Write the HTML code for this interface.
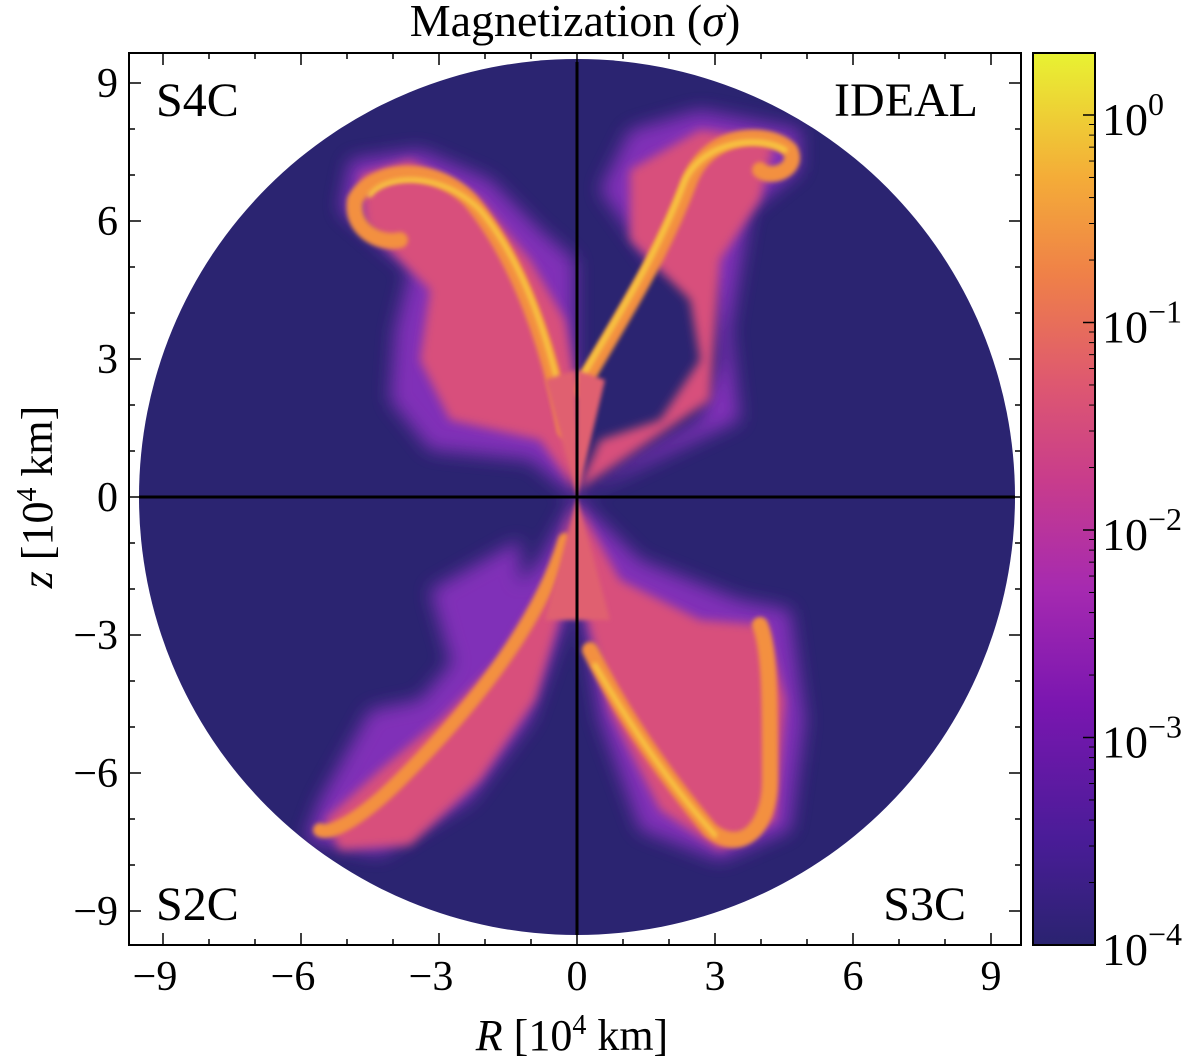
<!DOCTYPE html>
<html><head><meta charset="utf-8"><style>
html,body{margin:0;padding:0;background:#fff;}
svg{display:block;font-family:"Liberation Serif","DejaVu Serif",serif;}
</style></head><body>
<svg width="1200" height="1060" viewBox="0 0 1200 1060">
<defs>
<filter id="b8" x="-30%" y="-30%" width="160%" height="160%"><feGaussianBlur stdDeviation="9"/></filter>
<filter id="b4" x="-30%" y="-30%" width="160%" height="160%"><feGaussianBlur stdDeviation="5"/></filter>
<filter id="b2" x="-30%" y="-30%" width="160%" height="160%"><feGaussianBlur stdDeviation="2"/></filter>
<linearGradient id="cmap" x1="0" y1="1" x2="0" y2="0">
<stop offset="0" stop-color="#2a2370"/>
<stop offset="0.12" stop-color="#4a1c98"/>
<stop offset="0.27" stop-color="#7a16b0"/>
<stop offset="0.4" stop-color="#a62ab0"/>
<stop offset="0.52" stop-color="#c83c8c"/>
<stop offset="0.63" stop-color="#de5870"/>
<stop offset="0.75" stop-color="#ef8048"/>
<stop offset="0.86" stop-color="#f4ac38"/>
<stop offset="1" stop-color="#e8f232"/>
</linearGradient>
<clipPath id="disk"><circle cx="577" cy="497" r="438"/></clipPath>
</defs>

<text x="575" y="36" font-size="46" text-anchor="middle">Magnetization (<tspan font-style="italic">σ</tspan>)</text>

<g>
<circle cx="577" cy="497" r="438" fill="#2b2471"/>
<g clip-path="url(#disk)">
 <g filter="url(#b8)" fill="#8a30c0" opacity="0.9">
  <path d="M575,497 L530,460 L430,450 L390,400 L395,330 L410,270 L340,210 L350,160 L420,150 L490,180 L540,230 L575,260 Z"/>
  <path d="M575,497 L630,460 L700,420 L720,360 L710,280 L650,260 L600,190 L630,130 L700,110 L800,130 L800,170 L750,210 L730,330 L740,420 Z"/>
  <path d="M575,497 L640,560 L740,600 L790,610 L805,720 L790,830 L720,860 L640,830 L600,720 L580,600 Z"/>
  <path d="M575,497 L540,560 L470,640 L420,700 L370,710 L320,800 L305,840 L380,855 L470,800 L530,720 L565,620 Z"/>
  <path d="M520,540 L430,590 L450,660 L520,630 Z"/>
 </g>
 <g filter="url(#b4)" fill="#d8507c">
  <path d="M575,490 L540,440 L450,420 L420,360 L430,290 L365,225 L360,175 L410,160 L480,200 L530,260 L565,320 L575,380 Z"/>
  <path d="M578,490 L600,440 L660,420 L700,360 L690,300 L630,240 L630,170 L700,130 L775,140 L760,200 L720,260 L710,400 Z"/>
  <path d="M578,505 L620,580 L700,620 L765,625 L785,700 L775,820 L720,850 L660,810 L610,710 L585,610 Z"/>
  <path d="M572,505 L550,580 L500,660 L440,720 L380,770 L325,820 L340,850 L410,845 L480,780 L535,700 L565,600 Z"/>
 </g>
 <g filter="url(#b2)" fill="none" stroke="#f39040" stroke-linecap="round">
  <path d="M565,430 C550,350 520,260 470,200 C430,160 370,170 355,200 C350,230 380,245 400,240" stroke-width="16"/>
  <path d="M580,390 C620,320 660,260 690,180 C710,130 770,130 790,150 C800,170 770,180 760,170" stroke-width="16"/>
  <path d="M590,650 C620,710 660,770 710,830 C740,855 770,830 770,780 C770,700 770,650 760,625" stroke-width="16"/>
  <path d="M565,540 C540,620 480,700 400,780 C360,820 330,835 320,830" stroke-width="14"/>
 </g>
 <g filter="url(#b2)" fill="none" stroke="#f8c440" stroke-linecap="round">
  <path d="M570,440 C555,360 530,270 480,210 C440,170 385,175 370,195" stroke-width="5"/>
  <path d="M580,380 C615,320 655,260 685,180 C705,140 760,135 785,150" stroke-width="6"/>
  <path d="M595,665 C630,725 670,785 715,835" stroke-width="5"/>
 </g>
 <path d="M577,497 L545,380 L575,370 Z M577,497 L605,380 L577,370 Z M577,497 L545,620 L610,620 Z" fill="#e06070" filter="url(#b2)"/>
</g>
<line x1="577" y1="62" x2="577" y2="935" stroke="#000" stroke-width="3"/>
<line x1="139" y1="497" x2="1015" y2="497" stroke="#000" stroke-width="3"/>
<rect x="129" y="53" width="892" height="892" fill="none" stroke="#000" stroke-width="2"/>
<g id="ticks"></g>
<text x="156" y="116" font-size="48">S4C</text>
<text x="978" y="116" font-size="48" text-anchor="end">IDEAL</text>
<text x="156" y="920" font-size="48">S2C</text>
<text x="966" y="920" font-size="48" text-anchor="end">S3C</text>
</g>

<text x="572" y="1050" font-size="44" text-anchor="middle"><tspan font-style="italic">R</tspan> [10<tspan font-size="28" dy="-16">4</tspan><tspan dy="16"> km]</tspan></text>
<text transform="translate(52,497) rotate(-90)" font-size="44" text-anchor="middle"><tspan font-style="italic">z</tspan> [10<tspan font-size="28" dy="-16">4</tspan><tspan dy="16"> km]</tspan></text>

<g>
<rect x="1033" y="53" width="62" height="892" fill="url(#cmap)" stroke="#000" stroke-width="2"/>
<g id="cbticks"></g>
</g>

<script>
const xTicks=[-9,-6,-3,0,3,6,9];
const yTicks=[-9,-6,-3,0,3,6,9];
const cbExps=[0,-1,-2,-3,-4];
const NS="http://www.w3.org/2000/svg";
const X=v=>577+v*46, Y=v=>497-v*46, C=e=>115-e*207.5;
const g=document.getElementById('ticks');
function mk(p,t,a){const e=document.createElementNS(NS,t);for(const k in a)e.setAttribute(k,a[k]);p.appendChild(e);return e;}
const lab=v=>v<0?'\u2212'+(-v):''+v;
for(let m=-9;m<=9;m++){
 const big=m%3===0, L=big?12:6;
 let l=mk(g,'line',{x1:X(m),x2:X(m),y1:945,y2:945-L,stroke:'#000','stroke-width':1.5});
 
 
 l=mk(g,'line',{x1:X(m),x2:X(m),y1:53,y2:53+L,stroke:'#000','stroke-width':1.5});
 
 
 l=mk(g,'line',{x1:129,x2:129+L,y1:Y(m),y2:Y(m),stroke:'#000','stroke-width':1.5});
 
 
 l=mk(g,'line',{x1:1021,x2:1021-L,y1:Y(m),y2:Y(m),stroke:'#000','stroke-width':1.5});
 
 
}
xTicks.forEach(v=>{const t=mk(g,'text',{x:X(v)-(v<0?8:0),y:990,'font-size':42,'text-anchor':'middle'});t.textContent=lab(v);
 
 });
yTicks.forEach(v=>{const t=mk(g,'text',{x:118,y:Y(v)+14,'font-size':42,'text-anchor':'end'});t.textContent=lab(v);
 
 });
const cb=document.getElementById('cbticks');
cbExps.forEach(e=>{
 const l=mk(cb,'line',{x1:1095,x2:1083,y1:C(e),y2:C(e),stroke:'#000','stroke-width':1.5});
 
 
 for(let k=2;k<10;k++){const yy=C(e+Math.log10(k));if(yy<53)continue;
  const m=mk(cb,'line',{x1:1095,x2:1089,y1:yy,y2:yy,stroke:'#000','stroke-width':1});
  
  }
 const t=mk(cb,'text',{x:1102,y:C(e)+20,'font-size':46});
 
 
 t.textContent='10';
 const s=mk(t,'tspan',{'font-size':32,dy:-20});s.textContent=e<0?'\u2212'+(-e):''+e;
});
</script>
</svg>
</body></html>
